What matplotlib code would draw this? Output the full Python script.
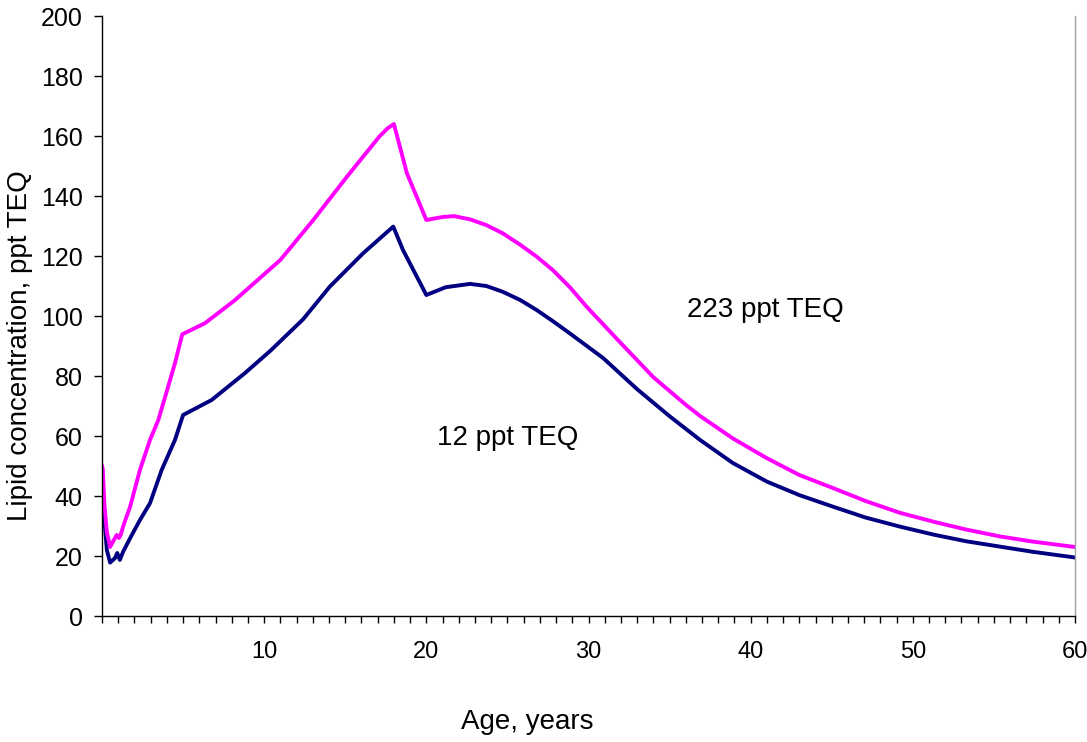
import matplotlib
matplotlib.use("Agg")
import matplotlib.pyplot as plt

plt.rcParams['font.family'] = ['Liberation Sans', 'DejaVu Sans']

# 223 ppt TEQ series (magenta)
mag_age = [0, 0.05, 0.15, 0.3, 0.5, 0.7, 0.9, 1.05, 1.15, 1.3, 1.73, 2.34, 2.96, 3.47, 4.0, 4.5, 4.95,
           6.35, 8.2, 11.0, 13.03, 15.1, 17.1, 17.6, 18.0, 18.8, 19.4, 20.0, 21.0, 21.7, 22.7, 23.7,
           24.7, 25.8, 26.8, 27.8, 28.85, 29.9, 31.9, 34.0, 36.0, 36.9, 38.9, 41.0, 43.0, 45.1, 47.1,
           49.2, 51.3, 53.3, 55.4, 57.4, 60]
mag_val = [50, 49, 37, 28, 23, 25, 27, 26, 27, 29.8, 36.4, 48.7, 58.7, 65.3, 75, 84.3, 93.9,
           97.6, 105.3, 118.7, 132, 146.4, 159.8, 162.5, 164, 147.6, 139.8, 132, 133, 133.3, 132.2, 130.3,
           127.6, 123.7, 119.8, 115.3, 109.6, 103, 91.5, 79.6, 70.4, 66.6, 59.2, 52.6, 47, 42.6, 38.3,
           34.4, 31.4, 28.8, 26.5, 24.8, 23.0]

# 12 ppt TEQ series (navy)
nav_age = [0, 0.1, 0.3, 0.5, 0.8, 0.94, 1.1, 1.3, 1.73, 2.34, 2.96, 3.68, 4.5, 5.0, 6.76, 8.8, 10.4,
           12.4, 14.05, 16.1, 17.5, 17.96, 18.56, 20.0, 21.2, 22.7, 23.7, 24.7, 25.8, 26.8, 27.8, 28.85,
           30.9, 33.0, 35.0, 36.9, 38.9, 41.0, 43.0, 45.1, 47.1, 49.2, 51.3, 53.3, 55.4, 57.4, 60]
nav_val = [42, 35, 22, 17.8, 19.3, 21, 18.7, 21.4, 25.9, 32, 37.6, 48.7, 58.7, 67, 72, 80.9, 88.5,
           98.9, 109.8, 120.9, 127.6, 129.8, 122, 107, 109.6, 110.7, 110.0, 108.1, 105.3, 102, 98.3, 94.2,
           86, 75.6, 66.6, 58.6, 51.0, 44.8, 40.3, 36.4, 32.8, 29.8, 27.1, 24.9, 23.1, 21.4, 19.5]

x_major = [10, 20, 30, 40, 50, 60]
y_ticks = [0, 20, 40, 60, 80, 100, 120, 140, 160, 180, 200]

fig = plt.figure(figsize=(10.87, 7.42), dpi=100)
ax = fig.add_axes([102/1087, 1-616/742, (1075-102)/1087, (616-16)/742])

ax.plot(nav_age, nav_val, color='#000080', lw=2.8, solid_joinstyle='round')
ax.plot(mag_age, mag_val, color='#FF00FF', lw=2.8, solid_joinstyle='round')

ax.set_xlim(0, 60)
ax.set_ylim(0, 200)
ax.set_xticks(x_major)
ax.set_xticks(range(0, 61), minor=True)
ax.set_yticks(y_ticks)
ax.tick_params(axis='x', which='both', direction='out', length=5, width=1, labelsize=17, pad=13)
ax.tick_params(axis='y', which='both', direction='out', length=6, width=1, labelsize=18, pad=8)

ax.spines['top'].set_visible(False)
ax.spines['right'].set_color('#A0A0A0')
ax.spines['right'].set_linewidth(1)
ax.spines['left'].set_linewidth(1)
ax.spines['bottom'].set_linewidth(1)

ax.text(40.9, 102, '223 ppt TEQ', fontsize=20, ha='center', va='center')
ax.text(25.0, 59.3, '12 ppt TEQ', fontsize=20, ha='center', va='center')

fig.text(527/1087, 1-722/742, 'Age, years', fontsize=20, ha='center', va='center')
fig.text(20/1087, 1-346/742, 'Lipid concentration, ppt TEQ', fontsize=20, ha='center', va='center',
         rotation=90)

fig.savefig('out.png', dpi=100)
